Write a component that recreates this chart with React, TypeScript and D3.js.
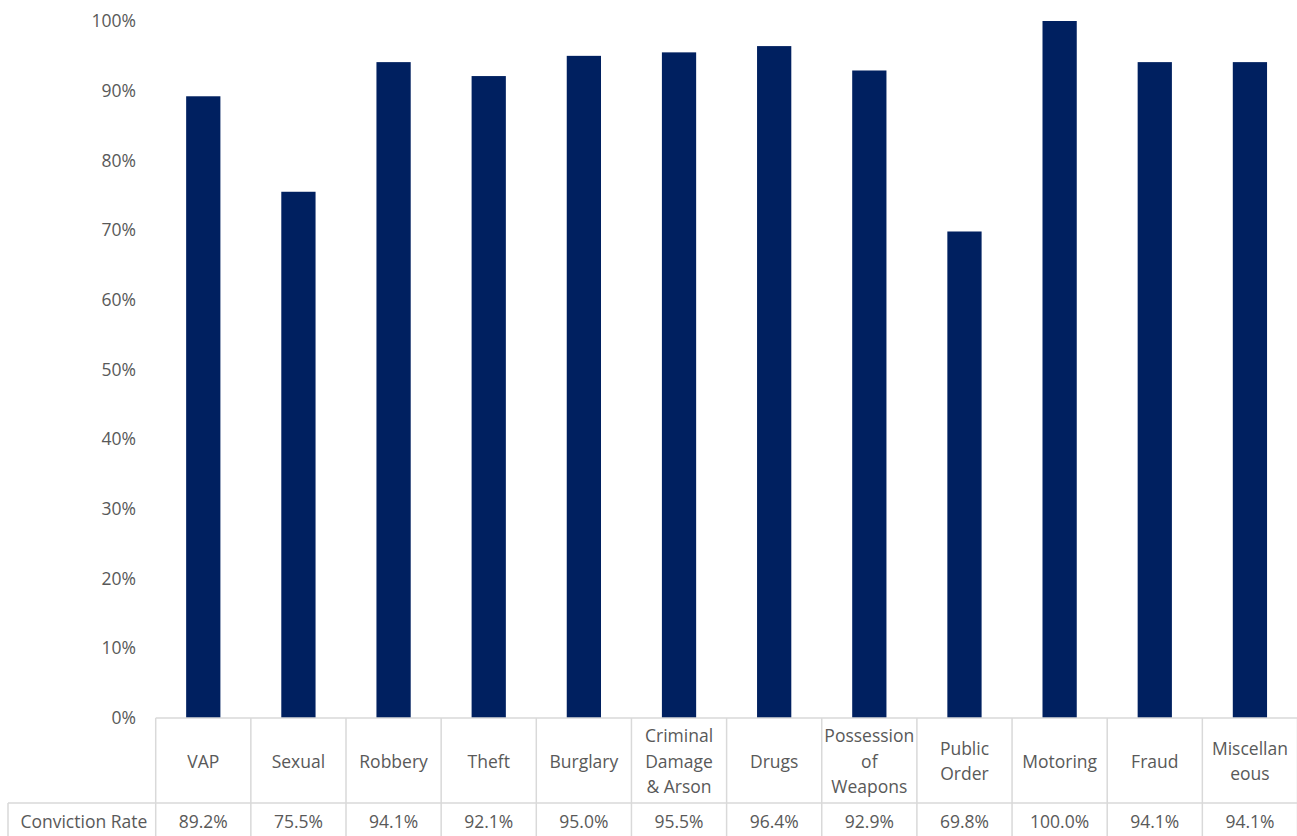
import React from "react";
import * as d3 from "d3";

const categories: string[][] = [
  ["VAP"], ["Sexual"], ["Robbery"], ["Theft"], ["Burglary"],
  ["Criminal", "Damage", "& Arson"], ["Drugs"], ["Possession", "of", "Weapons"],
  ["Public", "Order"], ["Motoring"], ["Fraud"], ["Miscellan", "eous"],
];
const convictionRate: number[] = [89.2, 75.5, 94.1, 92.1, 95.0, 95.5, 96.4, 92.9, 69.8, 100.0, 94.1, 94.1];
const yTicks: number[] = [0, 10, 20, 30, 40, 50, 60, 70, 80, 90, 100];
const seriesName = "Conviction Rate";

export default function App() {
  const W = 1297, H = 836;
  const left = 155.7, right = 1297.5;
  const top = 21, bottom = 718;
  const rowDiv = 803;
  const tableLeft = 8;
  const textColor = "#595959";
  const lineColor = "#d9d9d9";
  const font = "'Open Sans', 'Noto Sans', sans-serif";
  const fs = 17.5;

  const x = d3.scaleBand<number>().domain(d3.range(categories.length)).range([left, right]).paddingInner(0).paddingOuter(0);
  const y = d3.scaleLinear().domain([0, 100]).range([bottom, top]);
  const bw = x.bandwidth();
  const barW = bw * 0.36;
  const lh = 25.5;

  return (
    <svg width={W} height={H} style={{ position: "absolute", left: 0, top: 0 }} fontFamily={font}>
      <rect x={0} y={0} width={W} height={H} fill="#fff" />
      {yTicks.map((t) => (
        <text key={t} x={136} y={y(t)} dy="0.35em" textAnchor="end" fontSize={fs} fill={textColor}>
          {t}%
        </text>
      ))}
      {convictionRate.map((v, i) => (
        <rect key={i} x={x(i)! + bw / 2 - barW / 2} y={y(v)} width={barW} height={y(0) - y(v)} fill="#002060" />
      ))}
      <line x1={left} x2={right} y1={bottom} y2={bottom} stroke={lineColor} strokeWidth={1.5} />
      <line x1={tableLeft} x2={right} y1={rowDiv} y2={rowDiv} stroke={lineColor} strokeWidth={1.5} />
      <line x1={tableLeft} x2={tableLeft} y1={rowDiv} y2={H} stroke={lineColor} strokeWidth={1.5} />
      {d3.range(categories.length + 1).map((i) => {
        const xx = i < categories.length ? x(i)! : right;
        return <line key={i} x1={xx} x2={xx} y1={bottom} y2={H} stroke={lineColor} strokeWidth={1.5} />;
      })}
      {categories.map((lines, i) => {
        const cx = x(i)! + bw / 2;
        const cy = (bottom + rowDiv) / 2 + 1;
        const start = cy - ((lines.length - 1) * lh) / 2;
        return (
          <text key={i} textAnchor="middle" fontSize={fs} fill={textColor}>
            {lines.map((l, j) => (
              <tspan key={j} x={cx} y={start + j * lh} dy="0.35em">{l}</tspan>
            ))}
          </text>
        );
      })}
      <text x={(tableLeft + left) / 2 + 2} y={(rowDiv + H) / 2 + 2} dy="0.35em" textAnchor="middle" fontSize={fs} fill={textColor}>
        {seriesName}
      </text>
      {convictionRate.map((v, i) => (
        <text key={i} x={x(i)! + bw / 2} y={(rowDiv + H) / 2 + 2} dy="0.35em" textAnchor="middle" fontSize={fs} fill={textColor}>
          {v.toFixed(1)}%
        </text>
      ))}
    </svg>
  );
}
